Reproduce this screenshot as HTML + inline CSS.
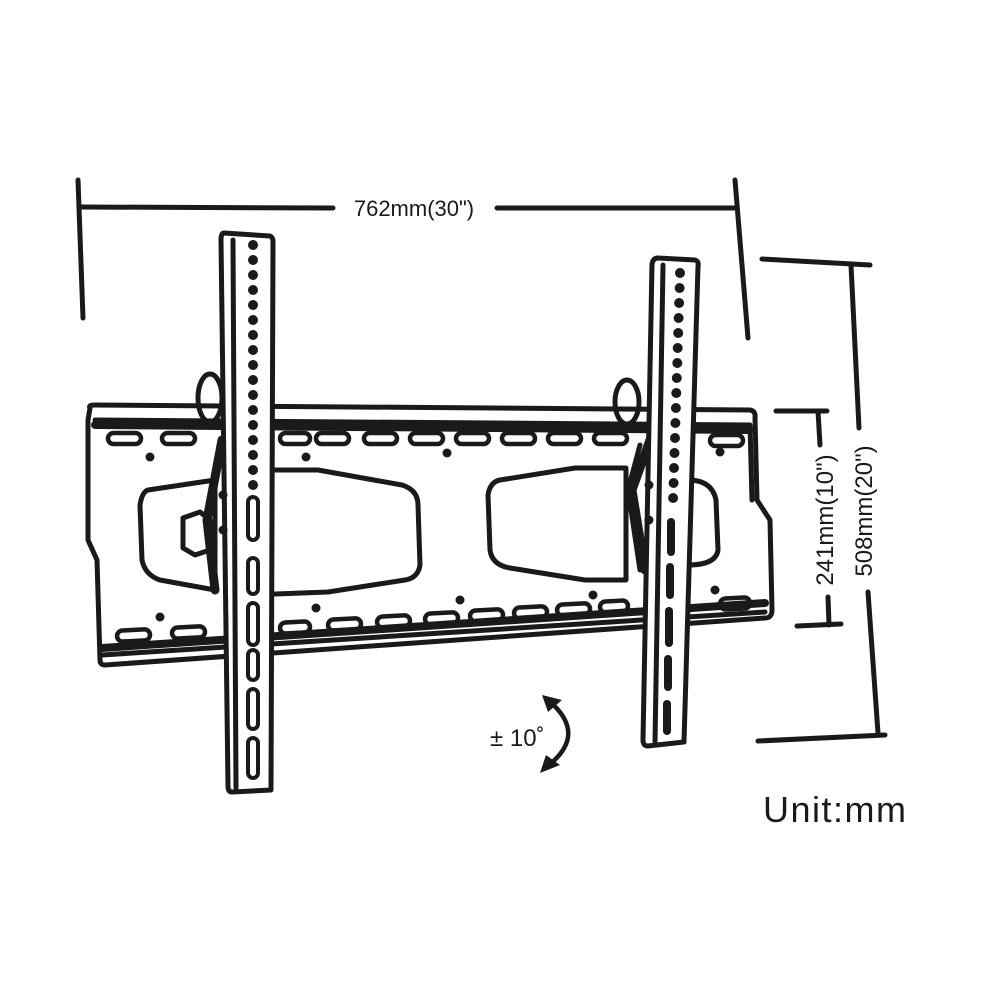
<!DOCTYPE html>
<html><head><meta charset="utf-8"><style>body{margin:0;background:#fff}svg{display:block}</style></head>
<body>
<svg width="1000" height="1000" viewBox="0 0 1000 1000" xmlns="http://www.w3.org/2000/svg" font-family="Liberation Sans, sans-serif">
<g stroke="#1a1a1a" stroke-width="5" fill="none" stroke-linecap="round" stroke-linejoin="round">
<!-- dimension lines -->
<line x1="78" y1="180" x2="83" y2="318"/>
<line x1="735" y1="180" x2="748" y2="338"/>
<line x1="80" y1="207" x2="333" y2="208"/>
<line x1="497" y1="208" x2="735" y2="208"/>
<line x1="762" y1="259" x2="870" y2="265"/>
<line x1="851" y1="265" x2="859" y2="428"/>
<line x1="868" y1="592" x2="878" y2="733"/>
<line x1="758" y1="741" x2="885" y2="735"/>
<line x1="776" y1="411" x2="827" y2="411"/>
<line x1="818" y1="411" x2="820" y2="445"/>
<line x1="828" y1="597" x2="829" y2="625"/>
<line x1="797" y1="626" x2="841" y2="624"/>

<!-- back plate -->
<path d="M90 408 Q88 405 95 405 L750 410 Q756 411 755 418 L757 500 L770 520 L772 610 Q772 618 765 618 L105 665 Q100 665 100 660 L97 560 L88 540 L88 420 Z"/>
<path d="M95 420 L750 425 L752 500"/>
<line x1="95" y1="425" x2="750" y2="430" stroke-width="8"/>
<line x1="102" y1="648" x2="765" y2="603" stroke-width="8"/>
<path d="M102 655 L765 612"/>
<!-- cutouts -->
<path d="M148 490 L215 480 L215 590 L160 580 Q145 575 142 560 L140 505 Q142 492 148 490 Z"/>
<path d="M275 470 L318 470 L402 485 Q418 490 418 505 L420 565 Q418 578 405 580 L328 592 L275 594"/>
<path d="M500 480 L575 468 L626 468 L626 580 L585 580 L510 568 Q492 565 490 550 L488 495 Q490 482 500 480 Z"/>
<path d="M688 480 Q712 480 716 500 L718 550 Q716 565 688 565"/>
<!-- top slots -->
<g stroke-width="4.5">
<rect x="108" y="433" width="33" height="11" rx="5.5"/>
<rect x="162" y="433" width="33" height="11" rx="5.5"/>
<rect x="280" y="433" width="30" height="11" rx="5.5"/>
<rect x="316" y="433" width="33" height="11" rx="5.5"/>
<rect x="364" y="433" width="33" height="11" rx="5.5"/>
<rect x="410" y="433" width="33" height="11" rx="5.5"/>
<rect x="456" y="433" width="33" height="11" rx="5.5"/>
<rect x="502" y="433" width="33" height="11" rx="5.5"/>
<rect x="548" y="433" width="33" height="11" rx="5.5"/>
<rect x="594" y="433" width="33" height="11" rx="5.5"/>
<rect x="710" y="435" width="33" height="11" rx="5.5"/>
<!-- bottom slots -->
<rect x="117" y="630" width="33" height="11" rx="5.5" transform="rotate(-3 133 635)"/>
<rect x="172" y="627" width="33" height="11" rx="5.5" transform="rotate(-3 188 632)"/>
<rect x="280" y="622" width="30" height="11" rx="5.5" transform="rotate(-3 295 627)"/>
<rect x="328" y="619" width="33" height="11" rx="5.5" transform="rotate(-3 344 624)"/>
<rect x="377" y="616" width="33" height="11" rx="5.5" transform="rotate(-3 393 621)"/>
<rect x="425" y="613" width="33" height="11" rx="5.5" transform="rotate(-3 441 618)"/>
<rect x="470" y="610" width="33" height="11" rx="5.5" transform="rotate(-3 486 615)"/>
<rect x="514" y="607" width="33" height="11" rx="5.5" transform="rotate(-3 530 612)"/>
<rect x="557" y="604" width="33" height="11" rx="5.5" transform="rotate(-3 573 609)"/>
<rect x="600" y="601" width="28" height="11" rx="5.5" transform="rotate(-3 614 606)"/>
<rect x="720" y="598" width="30" height="11" rx="5.5" transform="rotate(-3 735 603)"/>
</g>
<!-- left bracket hook -->
<ellipse cx="210" cy="398" rx="12" ry="24"/>
<path d="M222 440 L207 520 L215 590" stroke-width="9"/>
<path d="M183 518 L200 512 L210 520 L210 550 L195 555 L183 548 Z"/>
<!-- right bracket hook -->
<ellipse cx="627" cy="402" rx="12" ry="22"/>
<path d="M650 440 L632 490 L645 570" stroke-width="9"/>
<path d="M640 445 L628 490 L640 570"/>

<!-- left rail -->
<path d="M224 233 L270 236 Q273 237 273 242 L271 790 L232 792 Q228 792 228 786 L221 240 Q221 233 224 233 Z" fill="#fff"/>
<line x1="233" y1="240" x2="236" y2="788"/>
<!-- right rail -->
<path d="M658 258 L695 260 Q699 261 698 266 L684 742 L648 746 Q643 746 643 740 L652 264 Q653 258 658 258 Z" fill="#fff"/>
<line x1="663" y1="265" x2="655" y2="742"/>
</g>

<!-- holes -->
<g fill="#1a1a1a">
<circle cx="253" cy="245" r="5"/><circle cx="253" cy="260" r="5"/><circle cx="253" cy="275" r="5"/><circle cx="253" cy="290" r="5"/><circle cx="253" cy="305" r="5"/><circle cx="253" cy="320" r="5"/><circle cx="253" cy="335" r="5"/><circle cx="253" cy="350" r="5"/><circle cx="253" cy="365" r="5"/><circle cx="253" cy="380" r="5"/><circle cx="253" cy="395" r="5"/><circle cx="253" cy="410" r="5"/><circle cx="253" cy="425" r="5"/><circle cx="253" cy="440" r="5"/><circle cx="253" cy="455" r="5"/><circle cx="253" cy="470" r="5"/><circle cx="253" cy="485" r="5"/>
<circle cx="680" cy="273" r="5"/><circle cx="679.6" cy="288" r="5"/><circle cx="679.1" cy="303" r="5"/><circle cx="678.6" cy="318" r="5"/><circle cx="678.2" cy="333" r="5"/><circle cx="677.7" cy="348" r="5"/><circle cx="677.3" cy="363" r="5"/><circle cx="676.8" cy="378" r="5"/><circle cx="676.3" cy="393" r="5"/><circle cx="675.9" cy="408" r="5"/><circle cx="675.4" cy="423" r="5"/><circle cx="675" cy="438" r="5"/><circle cx="674.5" cy="453" r="5"/><circle cx="674" cy="468" r="5"/><circle cx="673.6" cy="483" r="5"/><circle cx="673.1" cy="498" r="5"/>
<!-- plate dots -->
<circle cx="150" cy="457" r="4.5"/><circle cx="306" cy="457" r="4.5"/><circle cx="447" cy="453" r="4.5"/><circle cx="720" cy="452" r="4.5"/>
<circle cx="160" cy="617" r="4.5"/><circle cx="316" cy="608" r="4.5"/><circle cx="593" cy="595" r="4.5"/><circle cx="715" cy="590" r="4.5"/><circle cx="460" cy="600" r="4.5"/>
<circle cx="223" cy="495" r="4.5"/><circle cx="223" cy="530" r="4.5"/><circle cx="649" cy="485" r="4.5"/><circle cx="649" cy="520" r="4.5"/>
<!-- right rail slots (filled) -->
<rect x="667" y="518" width="8" height="38" rx="4"/><rect x="666" y="563" width="8" height="36" rx="4"/><rect x="665" y="607" width="8" height="40" rx="4"/><rect x="664" y="655" width="8" height="36" rx="4"/><rect x="663" y="700" width="8" height="35" rx="4"/>
</g>
<g stroke="#1a1a1a" stroke-width="4" fill="#fff">
<rect x="248" y="497" width="10" height="43" rx="5"/><rect x="248" y="558" width="10" height="36" rx="5"/><rect x="248" y="603" width="10" height="42" rx="5"/><rect x="248" y="650" width="10" height="30" rx="5"/><rect x="248" y="689" width="10" height="40" rx="5"/><rect x="248" y="738" width="10" height="40" rx="5"/>
</g>

<!-- tilt arrow -->
<path d="M548 700 Q590 735 545 768" stroke="#1a1a1a" stroke-width="4.5" fill="none"/>
<polygon points="542,695 562,700 548,712" fill="#1a1a1a"/>
<polygon points="540,773 546,755 560,765" fill="#1a1a1a"/>

<!-- texts -->
<text x="414" y="216" font-size="22" text-anchor="middle" fill="#1a1a1a">762mm(30")</text>
<text transform="translate(872 511) rotate(-90)" font-size="24" text-anchor="middle" fill="#1a1a1a">508mm(20")</text>
<text transform="translate(833 520) rotate(-90)" font-size="24" text-anchor="middle" fill="#1a1a1a">241mm(10")</text>
<text x="490" y="746" font-size="24" fill="#1a1a1a">± 10˚</text>
<text x="763" y="822" font-size="36" letter-spacing="1.5" fill="#1a1a1a">Unit:mm</text>
</svg>
</body></html>
